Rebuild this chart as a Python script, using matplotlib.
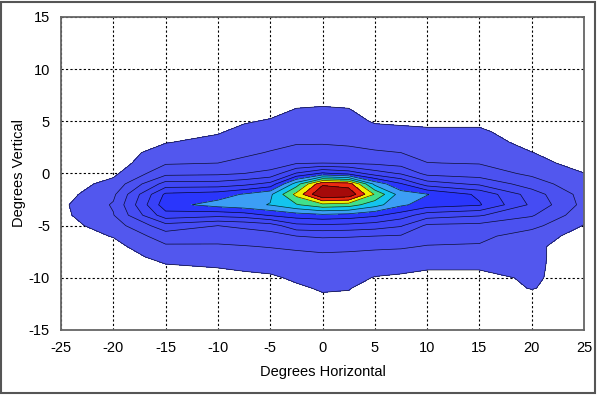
import numpy as np
import matplotlib
matplotlib.use("Agg")
import matplotlib.pyplot as plt

# ---------------- DATA ----------------
# horizontal grid positions (deg) and vertical grid positions (deg)
x_deg = [-25, -20, -15, -10, -7.5, -5, -2.5, 0, 2.5, 5, 7.5, 10, 15, 20, 25]
y_deg = list(range(-13, 9))

# contour value, from y=-13 up to y=8
z_m25 = [0, 0, 0, 0, 0, 0, 0, 0, 0.1, 0.25, 0.3, 0.1, 0, 0, 0, 0, 0, 0, 0, 0, 0, 0]
z_m20 = [0, 0, 0, 0, 0, 0, 0.2, 0.55, 1.0, 1.45, 1.6, 1.3, 0.8, 0.3, 0, 0, 0, 0, 0, 0, 0, 0]
z_m15 = [0, 0, 0, 0.05, 0.35, 0.82, 1.35, 2.0, 3.1, 5.1, 6.1, 5.7, 3.9, 2.2, 1.4, 0.93, 0.45, 0, 0, 0, 0, 0]
z_m10 = [0, 0, 0, 0.1, 0.52, 0.93, 1.37, 1.9, 2.5, 4.8, 6.9, 6.0, 3.9, 2.3, 1.5, 1.15, 0.8, 0.4, 0, 0, 0, 0]
z_m7 = [0, 0, 0, 0.25, 0.65, 1.0, 1.45, 2.0, 2.7, 5.0, 7.2, 6.6, 4.2, 2.5, 1.7, 1.35, 1.05, 0.8, 0.4, 0, 0, 0]
z_m5 = [0, 0, 0, 0.35, 0.75, 1.1, 1.55, 2.1, 3.0, 5.6, 7.55, 7.3, 4.8, 2.8, 1.95, 1.55, 1.25, 0.95, 0.6, 0.2, 0, 0]
z_m2 = [0, 0.1, 0.35, 0.65, 0.95, 1.25, 1.65, 2.5, 4.2, 6.0, 8.4, 9.8, 8.0, 4.6, 2.4, 1.85, 1.4, 1.15, 0.9, 0.6, 0.2, 0]
z_0 = [0.1, 0.35, 0.6, 0.85, 1.09, 1.33, 1.75, 2.65, 4.3, 6.25, 9.2, 12.6, 11.3, 5.7, 2.5, 1.9, 1.4, 1.15, 0.9, 0.65, 0.3, 0]
z_p2 = [0.05, 0.3, 0.55, 0.8, 1.05, 1.3, 1.7, 2.6, 4.2, 6.1, 9.0, 12.3, 11.0, 5.2, 2.4, 1.75, 1.35, 1.1, 0.85, 0.6, 0.2, 0]
z_p5 = [0, 0, 0.1, 0.45, 0.85, 1.2, 1.65, 2.5, 4.0, 5.7, 7.9, 9.4, 7.2, 4.0, 2.3, 1.6, 1.2, 0.85, 0.4, 0, 0, 0]
z_p7 = [0, 0, 0, 0.35, 0.75, 1.15, 1.6, 2.4, 3.6, 5.0, 6.7, 7.0, 5.6, 3.4, 2.1, 1.5, 1.15, 0.8, 0.3, 0, 0, 0]
z_p10 = [0, 0, 0, 0.2, 0.6, 1.05, 1.45, 1.85, 2.3, 4.0, 6.0, 6.55, 4.0, 2.2, 1.52, 1.2, 0.9, 0.65, 0.3, 0, 0, 0]
z_p15 = [0, 0, 0, 0.2, 0.6, 1.05, 1.4, 1.75, 2.2, 3.6, 5.6, 5.3, 3.3, 2.0, 1.45, 1.15, 0.9, 0.65, 0.3, 0, 0, 0]
z_p20 = [0, 0.1, 0.55, 0.65, 0.68, 0.7, 0.7, 1.0, 1.8, 2.6, 3.3, 3.0, 2.0, 1.3, 0.85, 0.52, 0.2, 0, 0, 0, 0, 0]
z_p25 = [0, 0, 0, 0, 0, 0, 0, 0.1, 0.45, 0.9, 1.2, 1.1, 0.8, 0.52, 0.1, 0, 0, 0, 0, 0, 0, 0]

levels = [0.5, 1.5, 2.5, 3.5, 4.5, 5.5, 6.5, 7.5, 8.5, 9.5, 10.5, 11.5, 14]
fill_colors = ["#5257ee", "#4b51f0", "#454cf3", "#3f47f5", "#3841f8", "#2a36fc",
               "#3c9ef5", "#14c4ee", "#40e08c", "#f2f000", "#ec2a10", "#a50a0a"]

x_ticks = [-25, -20, -15, -10, -5, 0, 5, 10, 15, 20, 25]
y_ticks = [-15, -10, -5, 0, 5, 10, 15]

# ---------------- DRAWING ----------------
plt.rcParams['font.family'] = ['Liberation Sans', 'DejaVu Sans']
plt.rcParams['axes.unicode_minus'] = False

cols = [z_m25, z_m20, z_m15, z_m10, z_m7, z_m5, z_m2, z_0,
        z_p2, z_p5, z_p7, z_p10, z_p15, z_p20, z_p25]
Z = np.array(cols).T
X, Y = np.meshgrid(x_deg, y_deg)

fig = plt.figure(figsize=(6.0, 3.95), dpi=100)
ax = fig.add_axes([0.1017, 0.1646, 0.8717, 0.7924])

ax.set_axisbelow(True)
ax.grid(True, color="black", linestyle=(0, (2, 2)), linewidth=0.8)

ax.contourf(X, Y, Z, levels=levels, colors=fill_colors)
ax.contour(X, Y, Z, levels=levels[:-1], colors="black", linewidths=0.5, alpha=0.8)

ax.set_xlim(-25, 25)
ax.set_ylim(-15, 15)
ax.set_xticks(x_ticks)
ax.set_yticks(y_ticks)
ax.tick_params(length=0, labelsize=10.5)
ax.tick_params(axis="x", pad=8)
ax.tick_params(axis="y", pad=8)

for s in ax.spines.values():
    s.set_color("#666666")
    s.set_linewidth(1.3)

ax.set_xlabel("Degrees Horizontal", fontsize=10.5, labelpad=7)
ax.set_ylabel("Degrees Vertical", fontsize=10.5, labelpad=2)

# grey frame round the whole picture
fig.patches.append(plt.Rectangle((0.002, 0.006), 0.99, 0.99, transform=fig.transFigure,
                                 fill=False, edgecolor="#555555", linewidth=1.5))

plt.savefig("out.png", dpi=100)
plt.close()
